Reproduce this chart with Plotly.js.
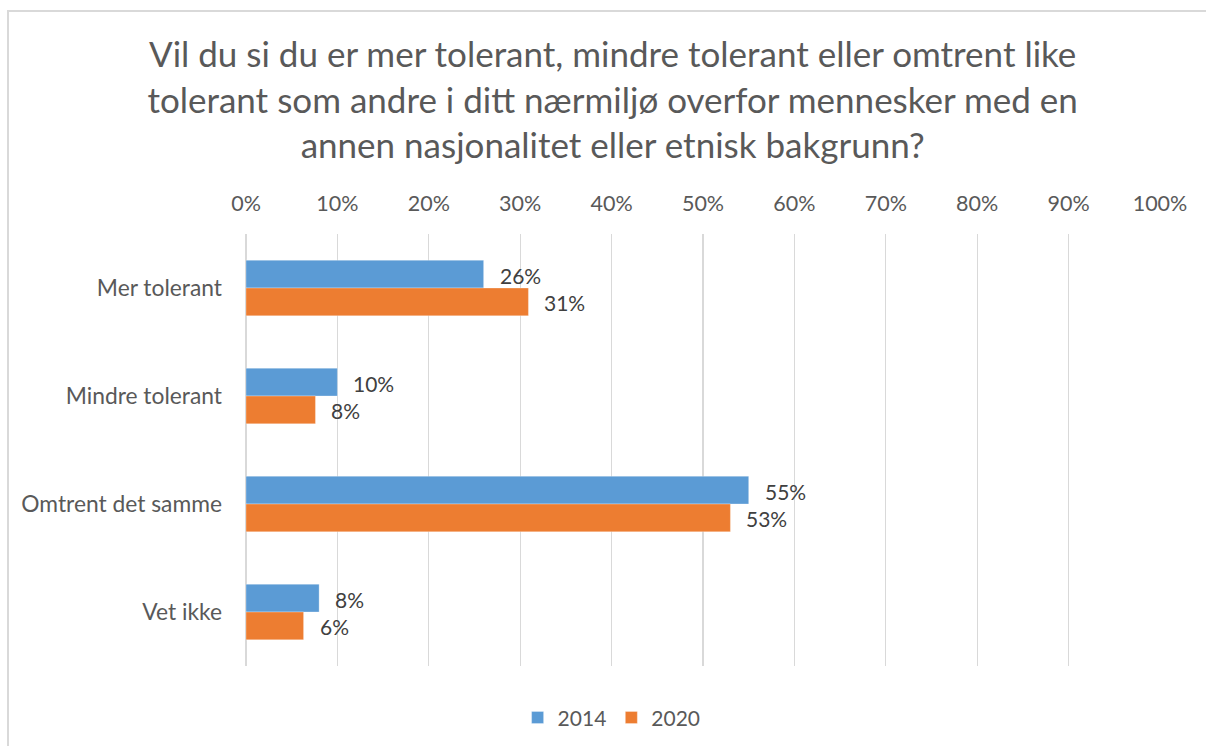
<!DOCTYPE html>
<html>
<head>
<meta charset="utf-8">
<script src="https://cdn.plot.ly/plotly-3.0.1.min.js"></script>
<style>
  html, body { margin: 0; padding: 0; background: #ffffff; }
  #chart { position: absolute; left: 0; top: 0; width: 1206px; height: 746px; }
  #frame { position: absolute; left: 7px; top: 10px; width: 1220px; height: 760px;
           border: 2px solid #d9d9d9; pointer-events: none; box-sizing: border-box; }
</style>
</head>
<body>
<div id="chart"></div>
<div id="frame"></div>
<script>
const categories = ["Mer tolerant", "Mindre tolerant", "Omtrent det samme", "Vet ikke"];
const values2014 = [26.0, 10.0, 55.0, 8.0];
const values2020 = [30.9, 7.6, 53.0, 6.3];
const seriesNames = ["2014", "2020"];
const xTickValues = [0, 10, 20, 30, 40, 50, 60, 70, 80, 90, 100];

const FONT = "Lato, 'Open Sans', sans-serif";
const blue = "#5B9BD5";
const orange = "#ED7D31";
const bargap = 0.485;

const traces = [
  { type: "bar", orientation: "h", name: seriesNames[0], y: categories, x: values2014,
    marker: { color: blue, line: { color: "rgba(255,255,255,0.6)", width: 0.5 } }, hoverinfo: "x+y" },
  { type: "bar", orientation: "h", name: seriesNames[1], y: categories, x: values2020,
    marker: { color: orange, line: { color: "rgba(255,255,255,0.6)", width: 0.5 } }, hoverinfo: "x+y" }
];

// data labels, positioned through the axes from the data arrays
const half = (1 - bargap) / 4;
const annotations = [];
[values2014, values2020].forEach((vals, s) => {
  vals.forEach((v, i) => {
    annotations.push({
      x: v, y: i + (s === 0 ? -half : half), xref: "x", yref: "y",
      text: Math.round(v) + "%", showarrow: false, xanchor: "left", yanchor: "middle",
      xshift: 14, yshift: -1, font: { family: FONT, size: 21, color: "#404040" }
    });
  });
});

const layout = {
  width: 1206, height: 746,
  margin: { l: 245.5, r: 45.5, t: 234, b: 80, pad: 0, autoexpand: false },
  paper_bgcolor: "#ffffff", plot_bgcolor: "#ffffff",
  title: {
    text: "Vil du si du er mer tolerant, mindre tolerant eller omtrent like<br>tolerant som andre i ditt nærmiljø overfor mennesker med en<br>annen nasjonalitet eller etnisk bakgrunn?",
    font: { family: FONT, size: 35, color: "#595959" },
    xref: "container", x: 0.508, xanchor: "center",
    yref: "container", y: 1 - 67 / 746, yanchor: "top"
  },
  barmode: "group", bargap: bargap, bargroupgap: 0,
  xaxis: {
    side: "top", range: [0, 100], tickvals: xTickValues, ticktext: xTickValues.map(v => v + "%"),
    showgrid: true, gridcolor: "#d9d9d9", gridwidth: 1.3,
    zeroline: true, zerolinecolor: "#d9d9d9", zerolinewidth: 1.3,
    showline: false, ticks: "", ticklabelstandoff: 18,
    tickfont: { family: FONT, size: 21.5, color: "#595959" }, fixedrange: true
  },
  yaxis: {
    type: "category", autorange: "reversed", showgrid: false, zeroline: false, showline: false,
    ticks: "", ticklabelstandoff: 23,
    tickfont: { family: FONT, size: 22.8, color: "#595959" }, fixedrange: true
  },
  showlegend: true,
  legend: {
    orientation: "h", x: 0.400, xanchor: "center", y: -0.12, yanchor: "middle",
    font: { family: FONT, size: 21, color: "#595959" }, itemwidth: 30, traceorder: "normal"
  },
  annotations: annotations
};

Plotly.newPlot("chart", traces, layout, { displayModeBar: false, staticPlot: true });
</script>
</body>
</html>
